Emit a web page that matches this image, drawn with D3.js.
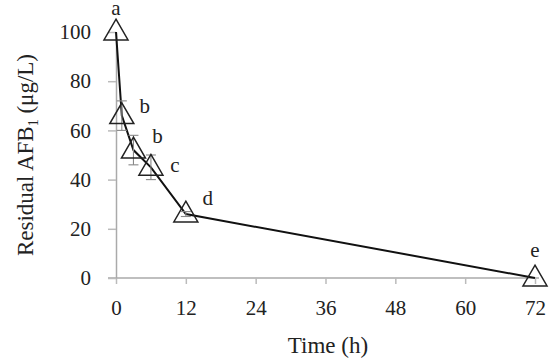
<!DOCTYPE html>
<html>
<head>
<meta charset="utf-8">
<script src="https://cdn.jsdelivr.net/npm/d3@7"></script>
<style>
  body { margin: 0; background: #fff; }
  text { font-family: "Liberation Serif", "Times New Roman", serif; fill: #222; }
</style>
</head>
<body>
<div id="chart"></div>
<script>
// data
const times = [0, 1, 3, 6, 12, 72];
const residual = [100, 66, 52, 45, 26, 0];
const errors = [0, 6, 6, 5, 1, 0];
const letters = ["a", "b", "b", "c", "d", "e"];
const xTicks = [0, 12, 24, 36, 48, 60, 72];
const yTicks = [0, 20, 40, 60, 80, 100];

const width = 554, height = 364;
const margin = { top: 32, right: 19, bottom: 86, left: 116 };

const svg = d3.select("#chart").append("svg")
    .attr("width", width)
    .attr("height", height);

const x = d3.scaleLinear().domain([0, 72]).range([margin.left, width - margin.right]);
const y = d3.scaleLinear().domain([0, 100]).range([height - margin.bottom, margin.top]);

// axes
const xAxis = svg.append("g")
    .attr("transform", "translate(0," + y(0) + ")")
    .call(d3.axisBottom(x).tickValues(xTicks).tickSize(6).tickPadding(16).tickSizeOuter(0));
const yAxis = svg.append("g")
    .attr("transform", "translate(" + x(0) + ",0)")
    .call(d3.axisLeft(y).tickValues(yTicks).tickSize(8).tickPadding(17).tickSizeOuter(0));

[xAxis, yAxis].forEach(g => {
  g.select(".domain").attr("stroke", "#aaa").attr("stroke-width", 1.5);
  g.selectAll(".tick line").attr("stroke", "#bbb").attr("stroke-width", 1.5);
  g.selectAll(".tick text").style("font-size", "21px").attr("fill", "#222")
    .style("font-family", "Liberation Serif, serif");
});
// x axis line extends a bit to the left of the y axis
xAxis.select(".domain").attr("d", "M" + (x(0) - 8) + ",0H" + (width - margin.right + 4));

const pts = times.map((t, i) => ({ t: t, v: residual[i], e: errors[i], l: letters[i] }));

// connecting line
const line = d3.line().x(d => x(d.t)).y(d => y(d.v));
svg.append("path")
    .datum(pts)
    .attr("fill", "none")
    .attr("stroke", "#111")
    .attr("stroke-width", 2)
    .attr("d", line);

// error bars
const eb = svg.append("g").attr("stroke", "#888").attr("stroke-width", 1.1);
pts.filter(d => d.e > 0).forEach(d => {
  eb.append("line").attr("x1", x(d.t)).attr("x2", x(d.t)).attr("y1", y(d.v - d.e)).attr("y2", y(d.v + d.e));
  eb.append("line").attr("x1", x(d.t) - 5).attr("x2", x(d.t) + 5).attr("y1", y(d.v + d.e)).attr("y2", y(d.v + d.e));
  eb.append("line").attr("x1", x(d.t) - 5).attr("x2", x(d.t) + 5).attr("y1", y(d.v - d.e)).attr("y2", y(d.v - d.e));
});

// hollow triangle markers
const tri = d3.symbol().type(d3.symbolTriangle).size(250);
svg.selectAll(".marker")
    .data(pts)
    .enter()
    .append("path")
    .attr("class", "marker")
    .attr("d", tri)
    .attr("transform", d => "translate(" + x(d.t) + "," + (y(d.v) + 1) + ")")
    .attr("fill", "none")
    .attr("stroke", "#222")
    .attr("stroke-width", 1.5);

// significance letters
const letterOffsets = [[0, -17], [23, -3], [24, -7], [24, 5], [22, -9], [0, -21]];
svg.selectAll(".letter")
    .data(pts)
    .enter()
    .append("text")
    .attr("class", "letter")
    .attr("x", (d, i) => x(d.t) + letterOffsets[i][0])
    .attr("y", (d, i) => y(d.v) + letterOffsets[i][1])
    .attr("text-anchor", "middle")
    .style("font-size", "21px")
    .text(d => d.l);

// axis titles
svg.append("text")
    .attr("x", 328)
    .attr("y", 353)
    .attr("text-anchor", "middle")
    .style("font-size", "23px")
    .text("Time (h)");

const yl = svg.append("text")
    .attr("transform", "translate(33,155) rotate(-90)")
    .attr("text-anchor", "middle")
    .style("font-size", "23px");
yl.append("tspan").text("Residual AFB");
yl.append("tspan").attr("dy", 5).style("font-size", "14px").text("1");
yl.append("tspan").attr("dy", -5).text(" (μg/L)");
</script>
</body>
</html>
